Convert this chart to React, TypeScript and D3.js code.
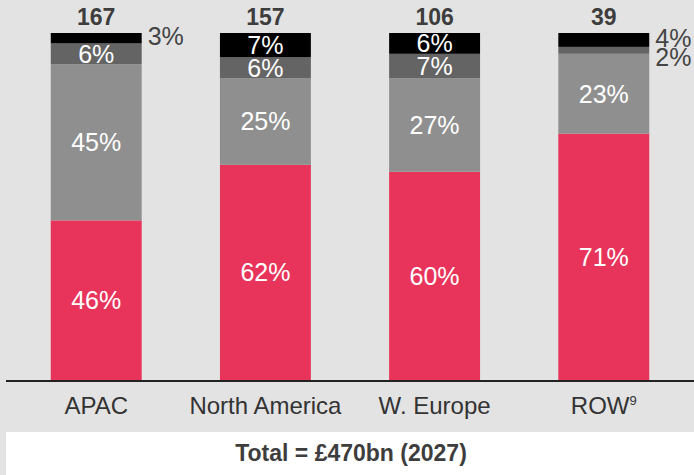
import React from "react";
import * as d3 from "d3";

const categories = ["APAC", "North America", "W. Europe", "ROW"];
const totals = [167, 157, 106, 39];
// shares (%) from bottom to top of each bar
const redShare = [46, 62, 60, 71];
const lightShare = [45, 25, 27, 23];
const darkShare = [6, 6, 7, 2];
const blackShare = [3, 7, 6, 4];
const totalTitle = "Total = £470bn (2027)";

const seriesKeys = ["red", "light", "dark", "black"];
const seriesColors = ["#e8345b", "#8f8f8f", "#646464", "#000000"];

const W = 694;
const H = 475;
const FONT = "'Liberation Sans', Arial, Helvetica, sans-serif";

export default function App() {
  const rows = categories.map((c, i) => ({
    category: c,
    red: redShare[i],
    light: lightShare[i],
    dark: darkShare[i],
    black: blackShare[i],
  }));
  const stack = d3.stack<any>().keys(seriesKeys)(rows);

  const x = d3
    .scaleBand<string>()
    .domain(categories)
    .range([0, 700])
    .paddingInner(0.4625)
    .paddingOuter(0.3);
  const y = d3.scaleLinear().domain([0, 100]).range([380, 33]);
  const bw = x.bandwidth();

  // labels
  const inside: { x: number; y: number; t: string }[] = [];
  const outside: { x: number; y: number; t: string }[] = [];
  categories.forEach((c, i) => {
    const outs: { y: number; t: string }[] = [];
    stack.forEach((s) => {
      const [y0, y1] = s[i];
      const v = y1 - y0;
      const mid = (y(y0) + y(y1)) / 2;
      const h = y(y0) - y(y1);
      if (h >= 18) inside.push({ x: x(c)! + bw / 2, y: mid, t: `${v}%` });
      else outs.push({ y: mid, t: `${v}%` });
    });
    // outside labels: top to bottom, avoid overlap
    outs.sort((a, b) => a.y - b.y);
    let prev = -Infinity;
    const placed = outs.map((o) => {
      const yy = Math.max(o.y - 2, prev + 19);
      prev = yy;
      return { x: x(c)! + bw + 6, y: yy, t: o.t };
    });
    outside.push(...placed);
  });

  return (
    <div style={{ position: "fixed", left: 0, top: 0, width: W, height: H }}>
      <svg width={W} height={H} style={{ display: "block" }} fontFamily={FONT}>
        <rect x={0} y={0} width={W} height={H} fill="#e3e3e3" />
        <rect x={6} y={432} width={W - 6} height={H - 432} fill="#ffffff" />
        {stack.map((s, si) =>
          s.map((d, i) => (
            <rect
              key={`${si}-${i}`}
              x={x(categories[i])}
              y={y(d[1])}
              width={bw}
              height={y(d[0]) - y(d[1])}
              fill={seriesColors[si]}
            />
          ))
        )}
        <line x1={6} x2={W} y1={381} y2={381} stroke="#222" strokeWidth={2} />
        {inside.map((l, i) => (
          <text
            key={`in-${i}`}
            x={l.x}
            y={l.y}
            dy="0.36em"
            textAnchor="middle"
            fill="#ffffff"
            fontSize={25}
          >
            {l.t}
          </text>
        ))}
        {outside.map((l, i) => (
          <text
            key={`out-${i}`}
            x={l.x}
            y={l.y}
            dy="0.36em"
            textAnchor="start"
            fill="#444444"
            fontSize={25}
          >
            {l.t}
          </text>
        ))}
        {categories.map((c, i) => (
          <text
            key={`tot-${c}`}
            x={x(c)! + bw / 2}
            y={y(100) - 8}
            textAnchor="middle"
            fill="#3d3d3d"
            fontSize={23}
            fontWeight="bold"
          >
            {totals[i]}
          </text>
        ))}
        {categories.map((c) => (
          <text
            key={`cat-${c}`}
            x={x(c)! + bw / 2}
            y={414}
            textAnchor="middle"
            fill="#333333"
            fontSize={24}
          >
            {c === "ROW" ? (
              <>
                ROW<tspan fontSize={13} dy={-9}>9</tspan>
              </>
            ) : (
              c
            )}
          </text>
        ))}
        <text
          x={351}
          y={461}
          textAnchor="middle"
          fill="#3d3d3d"
          fontSize={23}
          fontWeight="bold"
        >
          {totalTitle}
        </text>
      </svg>
    </div>
  );
}
